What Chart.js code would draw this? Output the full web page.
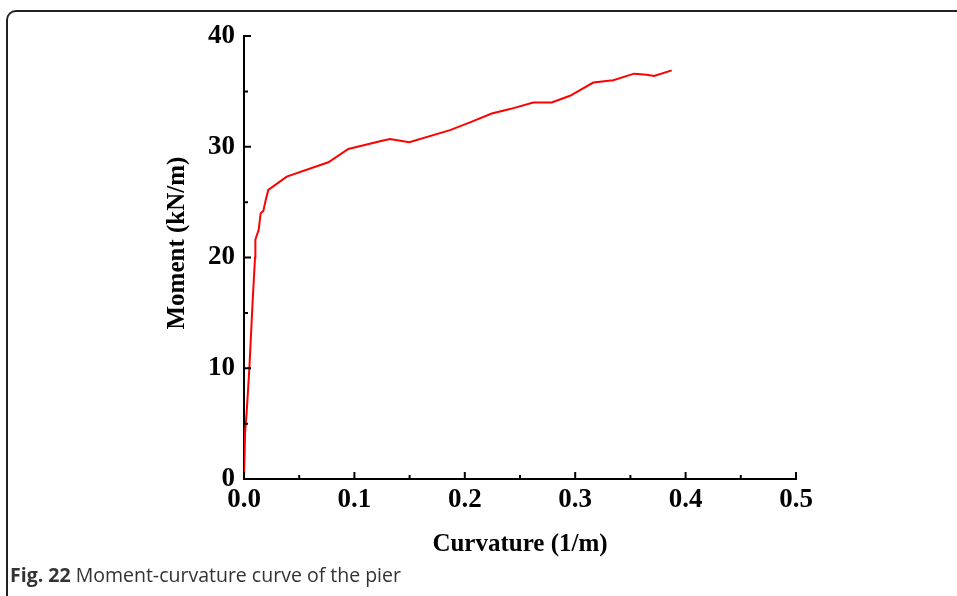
<!DOCTYPE html>
<html>
<head>
<meta charset="utf-8">
<script src="https://cdn.jsdelivr.net/npm/chart.js@4"></script>
<style>
    html, body { margin: 0; padding: 0; background: #fff; }
    #wrap { position: relative; width: 957px; height: 596px; overflow: hidden; }
    #frame {
        position: absolute; left: 6px; top: 10px; width: 1000px; height: 700px;
        border-top: 2px solid #222; border-left: 2px solid #222;
        border-top-left-radius: 10px;
    }
    #chartBox { position: absolute; left: 0; top: 0; width: 957px; height: 596px; }
    #caption {
        position: absolute; left: 10px; top: 561px;
        font-family: 'Open Sans', sans-serif; font-size: 19.5px; color: #333;
        white-space: nowrap;
    }
    #caption b { color: #333; }
</style>
</head>
<body>
<div id="wrap">
    <div id="frame"></div>
    <div id="chartBox"><canvas id="myChart" width="957" height="596"></canvas></div>
    <div id="caption"><b>Fig. 22</b> Moment-curvature curve of the pier</div>
</div>
<script>
const curvature = [0, 0.001, 0.0024, 0.0048, 0.0079, 0.0100, 0.0103, 0.0133, 0.0151, 0.0175, 0.0197,
    0.022, 0.0387, 0.0764, 0.0945, 0.1232, 0.1322, 0.1497, 0.1866, 0.2047, 0.2244, 0.2409,
    0.262, 0.2787, 0.2953, 0.3164, 0.3345, 0.3533, 0.3648, 0.3714, 0.3874];
const moment = [0, 4.2, 6.0, 9.9, 16.2, 20.0, 21.6, 22.5, 24.0, 24.2, 25.2,
    26.1, 27.3, 28.6, 29.8, 30.5, 30.7, 30.4, 31.5, 32.2, 33.0, 33.4,
    34.0, 34.0, 34.6, 35.8, 36.0, 36.6, 36.5, 36.4, 36.9];
const xTicks = [0, 0.1, 0.2, 0.3, 0.4, 0.5];
const yTicks = [0, 10, 20, 30, 40];

const serif = "'Liberation Serif', 'Times New Roman', serif";

// inward major/minor ticks drawn along each axis, plus the y title
// (sits a bit above the middle of the axis in the original)
const innerTicks = {
    id: 'innerTicks',
    afterDraw(chart) {
        const ctx = chart.ctx;
        const x = chart.scales.x, y = chart.scales.y;
        ctx.save();
        ctx.strokeStyle = '#000';
        ctx.lineWidth = 2;
        ctx.beginPath();
        for (let i = 0; i <= 10; i++) {
            const v = i * 0.05;
            const px = x.getPixelForValue(v);
            const len = i % 2 === 0 ? 7 : 4;
            ctx.moveTo(px, y.bottom);
            ctx.lineTo(px, y.bottom - len);
        }
        for (let i = 0; i <= 8; i++) {
            const v = i * 5;
            const py = y.getPixelForValue(v);
            const len = i % 2 === 0 ? 7 : 4;
            ctx.moveTo(x.left, py);
            ctx.lineTo(x.left + len, py);
        }
        ctx.stroke();

        ctx.translate(178, y.getPixelForValue(21.3));
        ctx.rotate(-Math.PI / 2);
        ctx.fillStyle = '#000';
        ctx.font = 'bold 25px ' + serif;
        ctx.textAlign = 'center';
        ctx.textBaseline = 'middle';
        ctx.fillText('Moment (kN/m)', 0, 0);
        ctx.restore();
    }
};

const points = curvature.map((c, i) => ({ x: c, y: moment[i] }));

const ctx = document.getElementById('myChart').getContext('2d');
new Chart(ctx, {
    type: 'scatter',
    data: {
        datasets: [{
            data: points,
            showLine: true,
            borderColor: '#ff0000',
            borderWidth: 2,
            pointRadius: 0,
            tension: 0,
        }],
    },
    options: {
        responsive: false,
        animation: false,
        layout: { padding: { left: 0, top: 36, right: 161, bottom: 0 } },
        plugins: {
            legend: { display: false },
            tooltip: { enabled: false },
        },
        scales: {
            x: {
                type: 'linear',
                min: 0,
                max: 0.5,
                afterFit: (scale) => { scale.height = 117; },
                afterBuildTicks: (scale) => { scale.ticks = xTicks.map(v => ({ value: v })); },
                border: { display: true, color: '#000', width: 2 },
                grid: { display: false, drawTicks: false },
                ticks: {
                    padding: 5,
                    color: '#000',
                    font: { family: serif, size: 27, weight: 'bold' },
                    callback: (v) => v.toFixed(1),
                },
                title: {
                    display: true,
                    text: 'Curvature (1/m)',
                    color: '#000',
                    font: { family: serif, size: 25, weight: 'bold' },
                    padding: { top: 0, bottom: 36 },
                },
            },
            y: {
                type: 'linear',
                min: 0,
                max: 40,
                afterFit: (scale) => { scale.width = 244; },
                afterBuildTicks: (scale) => { scale.ticks = yTicks.map(v => ({ value: v })); },
                border: { display: true, color: '#000', width: 2 },
                grid: { display: false, drawTicks: false },
                ticks: {
                    padding: 9,
                    color: '#000',
                    font: { family: serif, size: 27, weight: 'bold' },
                },
            },
        },
    },
    plugins: [innerTicks],
});
</script>
</body>
</html>
